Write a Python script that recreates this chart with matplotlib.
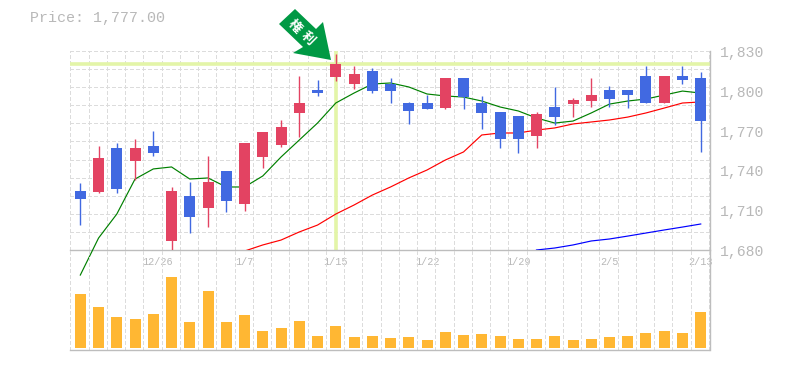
import numpy as np
import matplotlib
matplotlib.use('Agg')
import matplotlib.pyplot as plt
from matplotlib.patches import Polygon

plt.rcParams['lines.scale_dashes'] = False

opens = [1724.5,1723.7,1756.9,1747.1,1758.4,1686.8,1720.7,1711.7,1739.5,1714.7,
         1750.1,1759.1,1783.3,1800.6,1810.4,1805.1,1814.9,1805.1,1790.8,1790.8,
         1787.0,1809.6,1790.8,1784.0,1781.0,1765.9,1787.8,1790.0,1792.3,1800.6,
         1800.6,1811.2,1790.8,1811.2,1809.6]
closes = [1718.4,1749.3,1726.0,1756.9,1753.1,1724.5,1704.9,1731.2,1716.9,1760.6,
          1768.9,1772.7,1790.8,1798.3,1820.2,1812.7,1799.8,1799.8,1784.8,1786.3,
          1809.6,1795.3,1783.3,1763.7,1763.7,1782.5,1780.2,1793.1,1796.8,1793.8,
          1796.8,1790.8,1811.2,1808.1,1777.2]
highs = [1730.5,1758.4,1760.6,1763.7,1769.7,1727.5,1731.2,1750.9,1739.5,1760.6,
         1768.9,1778.0,1811.2,1808.1,1827.7,1818.7,1817.2,1809.6,1791.6,1796.8,
         1809.6,1809.6,1796.1,1784.0,1781.0,1784.0,1802.9,1794.6,1809.6,1803.6,
         1800.6,1818.7,1811.2,1818.7,1814.2]
lows = [1698.8,1723.0,1723.0,1732.8,1750.9,1680.0,1692.8,1697.3,1708.6,1709.4,
        1741.8,1757.6,1765.2,1796.1,1807.4,1801.4,1798.3,1790.8,1775.0,1786.3,
        1786.3,1786.3,1771.2,1756.9,1753.1,1756.9,1774.2,1780.2,1787.8,1787.8,
        1787.0,1790.8,1790.8,1805.1,1753.9]
ma_short = [1661.1,1689.0,1707.1,1733.5,1741.1,1742.6,1733.5,1734.3,1727.5,1727.5,
            1735.8,1750.1,1762.9,1775.7,1790.8,1798.3,1805.1,1805.9,1802.9,1797.6,
            1796.1,1795.3,1792.3,1787.8,1784.8,1779.5,1775.7,1777.2,1783.3,1790.0,
            1792.3,1793.8,1796.8,1799.8,1798.3]
ma_mid = [1679.2,1683.8,1687.5,1693.6,1698.8,1707.1,1713.9,1721.4,1727.5,1734.3,
          1740.3,1747.8,1753.9,1766.7,1768.2,1768.2,1770.4,1772.0,1775.0,1776.5,
          1778.0,1780.2,1783.3,1787.0,1790.8,1791.6]
ma_long = [1680.0,1681.5,1683.8,1686.8,1688.3,1690.5,1692.8,1695.1,1697.3,1699.6]
volumes = [54,41,31,29,34,71,26,57,26,33,17,20,27,12,22,11,12,10,
           11,8,16,13,14,12,9,9,12,8,9,11,12,15,17,15,36]
date_pos = [4.25,9,14,19,24,29,34]
date_labels = ['12/26','1/7','1/15','1/22','1/29','2/5','2/13']
price_ticks = [1830,1800,1770,1740,1710,1680]
price_labels = ['1,830','1,800','1,770','1,740','1,710','1,680']
last_price = 'Price: 1,777.00'
mark_idx = 14
mark_price = 1820.2

W, H = 785, 370
C_GRID = '#dcdcdc'
C_AXIS = '#bdbdbd'
C_TEXT = '#b8b8b8'
C_UP = '#e34362'
C_DOWN = '#4169e1'
C_MARK = '#e3f5a8'
MONO = 'Liberation Mono'

x = np.arange(len(opens))
xlim = (-0.548, 34.48)
left, right = 70.3, 709.5


def px_axes(y0, y1):
    return fig.add_axes([left/W, 1-y1/H, (right-left)/W, (y1-y0)/H])


fig = plt.figure(figsize=(W/100, H/100), dpi=100)
ax = px_axes(51, 250)
axv = px_axes(250, 350)

for a in (ax, axv):
    a.set_xlim(xlim)
    a.patch.set_visible(False)
    a.set_xticks(np.arange(0, 36)-0.548)
    a.tick_params(length=0, labelbottom=False, labelleft=False)
    a.grid(axis='x', color=C_GRID, lw=0.7, ls=(0, (2.2, 1.6)), zorder=1, antialiased=False)
    a.set_axisbelow(True)
    for s in a.spines.values():
        s.set_visible(False)
    a.spines['right'].set_visible(True)
    a.spines['bottom'].set_visible(True)
    a.spines['right'].set_color(C_AXIS)
    a.spines['bottom'].set_color(C_AXIS)
    a.spines['right'].set_linewidth(1.0)
    a.spines['bottom'].set_linewidth(1.0)

ax.set_ylim(1680, 1830)
ax.set_yticks(np.linspace(1680, 1830, 12))
ax.grid(axis='y', color=C_GRID, lw=0.7, ls=(0, (2.2, 1.6)), zorder=1, antialiased=False)

# highlighted bar
ax.axhline(mark_price, color=C_MARK, lw=2.6, zorder=2)
ax.axvline(mark_idx, color=C_MARK, lw=2.6, ymin=0, ymax=1, zorder=2)

# moving averages sit under the candles
ax.plot(x, ma_short, color='#008000', lw=0.85, zorder=3, clip_on=False)
ax.plot(x[9:], ma_mid, color='#ff0000', lw=0.85, zorder=3)
ax.plot(x[25:], ma_long, color='#0000ff', lw=0.85, zorder=3)

colors = [C_UP if c > o else C_DOWN for o, c in zip(opens, closes)]
ax.vlines(x, lows, highs, colors=colors, lw=1.0, zorder=4)
ax.bar(x, np.abs(np.subtract(closes, opens)), bottom=np.minimum(opens, closes),
       width=11/18.25, color=colors, zorder=5)

axv.set_ylim(-2, 98)
axv.bar(x, volumes, width=11/18.25, color='#ffb733', zorder=3)

for pos, lab in zip(date_pos, date_labels):
    ax.annotate(lab, (pos, 0), xycoords=('data', 'axes fraction'), xytext=(0, -8.6),
                textcoords='offset points', ha='center', va='center',
                fontsize=7.3, family=MONO, color=C_TEXT)

for p, lab in zip(price_ticks, price_labels):
    ax.annotate(lab, (1, p), xycoords=('axes fraction', 'data'), xytext=(7.6, -1.5),
                textcoords='offset points', ha='left', va='center',
                fontsize=10.6, family=MONO, color=C_TEXT)

fig.text(30/W, 1-18/H, last_price, fontsize=10.8, family=MONO, color=C_TEXT,
         ha='left', va='center')

# green arrow pointing at the marked bar
arrow_px = [(295, 9), (279, 24), (303, 47), (293, 53), (331, 60), (323, 22), (316, 29)]
fig.add_artist(Polygon([(px/W, 1-py/H) for px, py in arrow_px], closed=True,
                       transform=fig.transFigure, facecolor='#009944', edgecolor='none', zorder=6))
for ch, px, py in [('権', 295, 26), ('利', 308, 38)]:
    fig.text(px/W, 1-py/H, ch, color='white', fontsize=9.5, fontweight='bold',
             family='Noto Sans CJK JP', rotation=-45, ha='center', va='center', zorder=7)

fig.savefig('out.png', dpi=100)
